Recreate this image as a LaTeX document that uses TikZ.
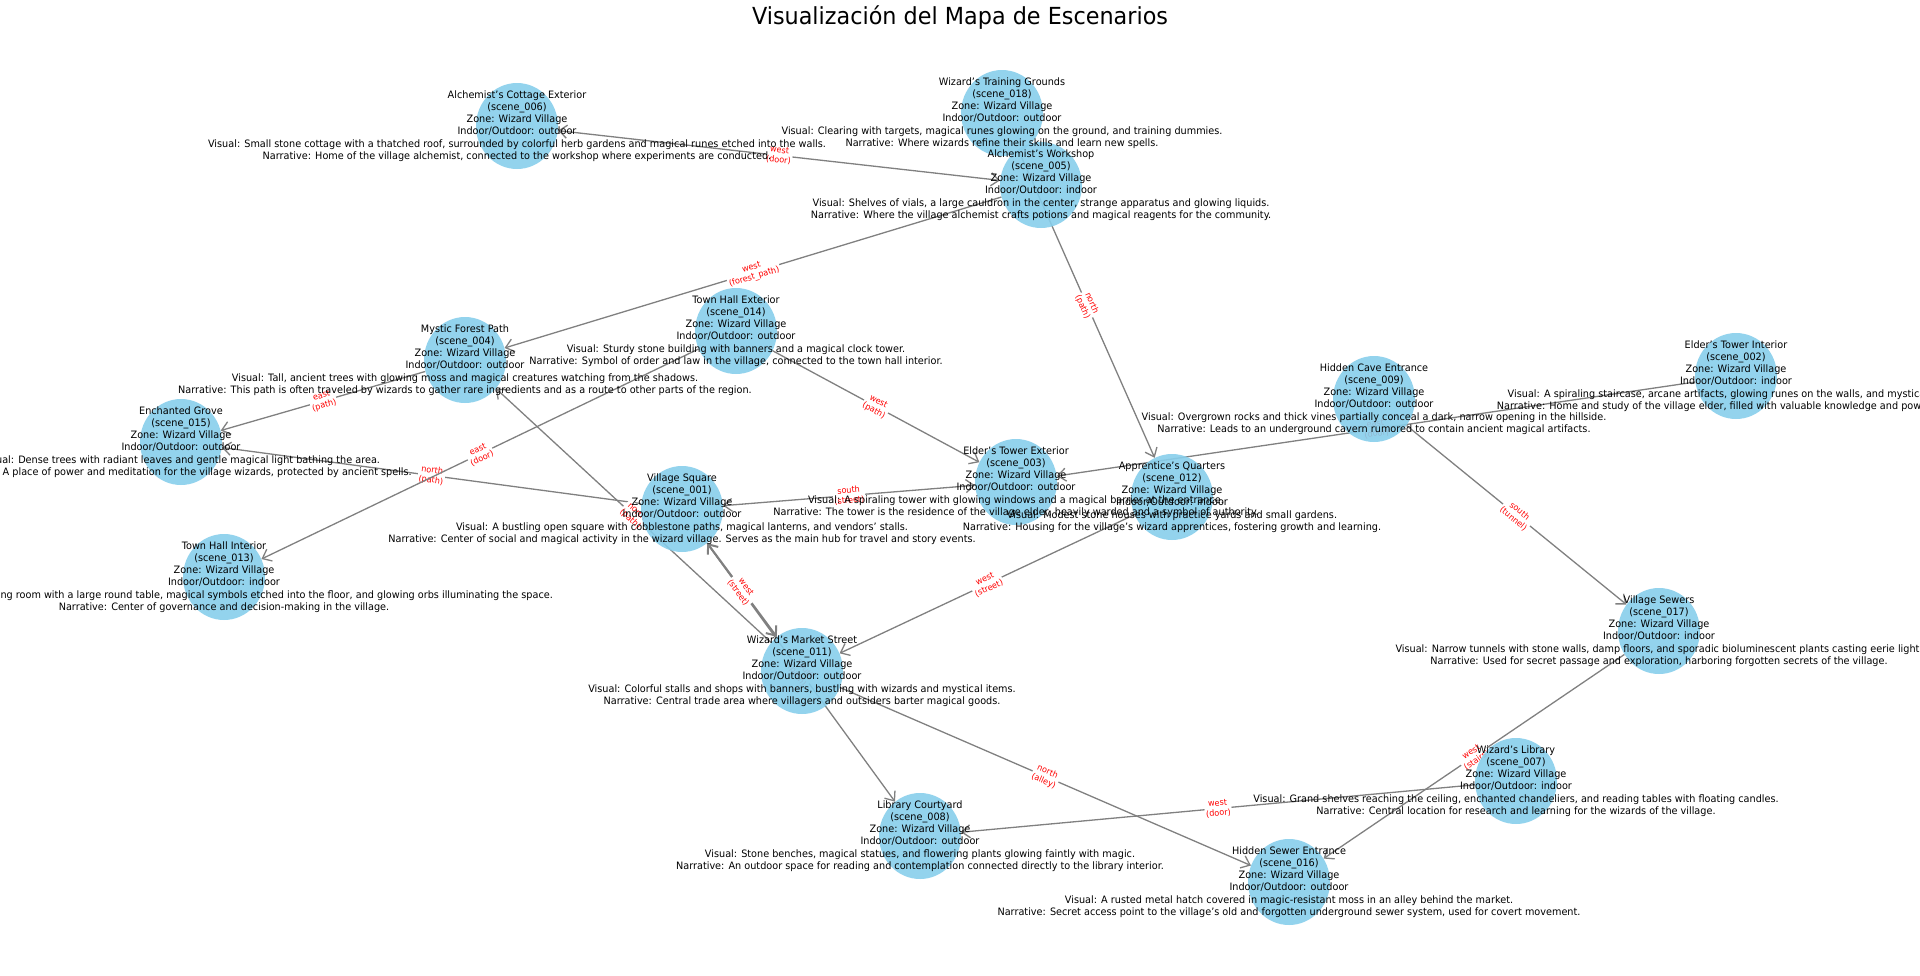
\documentclass[tikz,border=0pt]{standalone}
\usepackage{fontspec}
\setmainfont{DejaVu Sans}[FakeStretch=0.95]
\usetikzlibrary{arrows.meta, shapes.geometric}
\definecolor{skyblue}{HTML}{87CEEB}
\definecolor{edgegray}{HTML}{808080}
\pgfdeclarelayer{background}
\pgfsetlayers{background,main}
\tikzset{
  scene/.style={ellipse, minimum width=82pt, minimum height=86pt, inner sep=0pt, fill=skyblue, fill opacity=0.9},
  scenetext/.style={align=center, inner sep=0pt, font=\fontsize{10.2}{12.2}\selectfont},
  dirlabel/.style={sloped, align=center, text=red, fill=white, rounded corners=2pt, inner sep=1.2pt, font=\fontsize{8.5}{10}\selectfont},
}

\begin{document}
\begin{tikzpicture}[x=1pt, y=-1pt, >={Straight Barb[length=8pt,width=13pt]}]
    \useasboundingbox (0,0) rectangle (1920,975);
    \node[font=\fontsize{23.5}{26}\selectfont] (title) at (960,18) {Visualización del Mapa de Escenarios};

    % scene circles
    \node[scene] (s006) at (517,126) {};
    \node[scene] (s018) at (1002,113) {};
    \node[scene] (s005) at (1041,185) {};
    \node[scene] (s004) at (465,360) {};
    \node[scene] (s014) at (736,331) {};
    \node[scene] (s015) at (181,442) {};
    \node[scene] (s013) at (224,577) {};
    \node[scene] (s001) at (682,509) {};
    \node[scene] (s003) at (1016,482) {};
    \node[scene] (s012) at (1172,497) {};
    \node[scene] (s009) at (1374,399) {};
    \node[scene] (s002) at (1736,376) {};
    \node[scene] (s017) at (1659,631) {};
    \node[scene] (s011) at (802,671) {};
    \node[scene] (s007) at (1516,781) {};
    \node[scene] (s008) at (920,836) {};
    \node[scene] (s016) at (1289,882) {};

    % connections
    \begin{pgfonlayer}{background}
    \path[->, edgegray, line width=1.3pt]
    (s005) edge[<->] node[dirlabel] {west\\(door)} (s006)
    (s005) edge node[dirlabel] {west\\(forest\_path)} (s004)
    (s018) edge node[dirlabel] {north\\(path)} (s012)
    (s014) edge node[dirlabel] {west\\(path)} (s003)
    (s002) edge node[dirlabel] {east\\(door)} (s003)
    (s001) edge[<->] node[dirlabel] {south\\(street)} (s003)
    (s012) edge node[dirlabel] {west\\(street)} (s011)
    (s004) edge node[dirlabel] {east\\(path)} (s015)
    (s001) edge node[dirlabel] {north\\(path)} (s015)
    (s014) edge node[dirlabel] {east\\(door)} (s013)
    (s011) edge node[dirlabel] {north\\(path)} (s004)
    (s001) edge node[dirlabel] {south\\(path)} (s008)
    (s009) edge node[dirlabel] {south\\(tunnel)} (s017)
    (s011) edge node[dirlabel] {north\\(alley)} (s016)
    (s007) edge node[dirlabel] {west\\(door)} (s008)
    (s017) edge node[dirlabel] {west\\(stairs)} (s016);
    \path[<->, edgegray, line width=2pt]
    (s001) edge node[dirlabel] {west\\(street)} (s011);
    \end{pgfonlayer}

    % scene texts
    \node[scenetext] (t006) at (s006) {Alchemist's Cottage Exterior\\(scene\_006)\\Zone: Wizard Village\\Indoor/Outdoor: outdoor\\Visual: Small stone cottage with a thatched roof, surrounded by colorful herb gardens and magical runes etched into the walls.\\Narrative: Home of the village alchemist, connected to the workshop where experiments are conducted.};
    \node[scenetext] (t018) at (s018) {Wizard's Training Grounds\\(scene\_018)\\Zone: Wizard Village\\Indoor/Outdoor: outdoor\\Visual: Clearing with targets, magical runes glowing on the ground, and training dummies.\\Narrative: Where wizards refine their skills and learn new spells.};
    \node[scenetext] (t005) at (s005) {Alchemist's Workshop\\(scene\_005)\\Zone: Wizard Village\\Indoor/Outdoor: indoor\\Visual: Shelves of vials, a large cauldron in the center, strange apparatus and glowing liquids.\\Narrative: Where the village alchemist crafts potions and magical reagents for the community.};
    \node[scenetext] (t004) at (s004) {Mystic Forest Path\\(scene\_004)\\Zone: Wizard Village\\Indoor/Outdoor: outdoor\\Visual: Tall, ancient trees with glowing moss and magical creatures watching from the shadows.\\Narrative: This path is often traveled by wizards to gather rare ingredients and as a route to other parts of the region.};
    \node[scenetext] (t014) at (s014) {Town Hall Exterior\\(scene\_014)\\Zone: Wizard Village\\Indoor/Outdoor: outdoor\\Visual: Sturdy stone building with banners and a magical clock tower.\\Narrative: Symbol of order and law in the village, connected to the town hall interior.};
    \node[scenetext] (t015) at (s015) {Enchanted Grove\\(scene\_015)\\Zone: Wizard Village\\Indoor/Outdoor: outdoor\\Visual: Dense trees with radiant leaves and gentle magical light bathing the area.\\Narrative: A place of power and meditation for the village wizards, protected by ancient spells.};
    \node[scenetext] (t013) at (s013) {Town Hall Interior\\(scene\_013)\\Zone: Wizard Village\\Indoor/Outdoor: indoor\\Visual: A grand meeting room with a large round table, magical symbols etched into the floor, and glowing orbs illuminating the space.\\Narrative: Center of governance and decision-making in the village.};
    \node[scenetext] (t001) at (s001) {Village Square\\(scene\_001)\\Zone: Wizard Village\\Indoor/Outdoor: outdoor\\Visual: A bustling open square with cobblestone paths, magical lanterns, and vendors' stalls.\\Narrative: Center of social and magical activity in the wizard village. Serves as the main hub for travel and story events.};
    \node[scenetext] (t003) at (s003) {Elder's Tower Exterior\\(scene\_003)\\Zone: Wizard Village\\Indoor/Outdoor: outdoor\\Visual: A spiraling tower with glowing windows and a magical barrier at the entrance.\\Narrative: The tower is the residence of the village elder, heavily warded and a symbol of authority.};
    \node[scenetext] (t012) at (s012) {Apprentice's Quarters\\(scene\_012)\\Zone: Wizard Village\\Indoor/Outdoor: indoor\\Visual: Modest stone houses with practice yards and small gardens.\\Narrative: Housing for the village's wizard apprentices, fostering growth and learning.};
    \node[scenetext] (t009) at (s009) {Hidden Cave Entrance\\(scene\_009)\\Zone: Wizard Village\\Indoor/Outdoor: outdoor\\Visual: Overgrown rocks and thick vines partially conceal a dark, narrow opening in the hillside.\\Narrative: Leads to an underground cavern rumored to contain ancient magical artifacts.};
    \node[scenetext] (t002) at (s002) {Elder's Tower Interior\\(scene\_002)\\Zone: Wizard Village\\Indoor/Outdoor: indoor\\Visual: A spiraling staircase, arcane artifacts, glowing runes on the walls, and mystical tomes.\\Narrative: Home and study of the village elder, filled with valuable knowledge and powerful relics.};
    \node[scenetext] (t017) at (s017) {Village Sewers\\(scene\_017)\\Zone: Wizard Village\\Indoor/Outdoor: indoor\\Visual: Narrow tunnels with stone walls, damp floors, and sporadic bioluminescent plants casting eerie light.\\Narrative: Used for secret passage and exploration, harboring forgotten secrets of the village.};
    \node[scenetext] (t011) at (s011) {Wizard's Market Street\\(scene\_011)\\Zone: Wizard Village\\Indoor/Outdoor: outdoor\\Visual: Colorful stalls and shops with banners, bustling with wizards and mystical items.\\Narrative: Central trade area where villagers and outsiders barter magical goods.};
    \node[scenetext] (t007) at (s007) {Wizard's Library\\(scene\_007)\\Zone: Wizard Village\\Indoor/Outdoor: indoor\\Visual: Grand shelves reaching the ceiling, enchanted chandeliers, and reading tables with floating candles.\\Narrative: Central location for research and learning for the wizards of the village.};
    \node[scenetext] (t008) at (s008) {Library Courtyard\\(scene\_008)\\Zone: Wizard Village\\Indoor/Outdoor: outdoor\\Visual: Stone benches, magical statues, and flowering plants glowing faintly with magic.\\Narrative: An outdoor space for reading and contemplation connected directly to the library interior.};
    \node[scenetext] (t016) at (s016) {Hidden Sewer Entrance\\(scene\_016)\\Zone: Wizard Village\\Indoor/Outdoor: outdoor\\Visual: A rusted metal hatch covered in magic-resistant moss in an alley behind the market.\\Narrative: Secret access point to the village's old and forgotten underground sewer system, used for covert movement.};
\end{tikzpicture}
\end{document}
